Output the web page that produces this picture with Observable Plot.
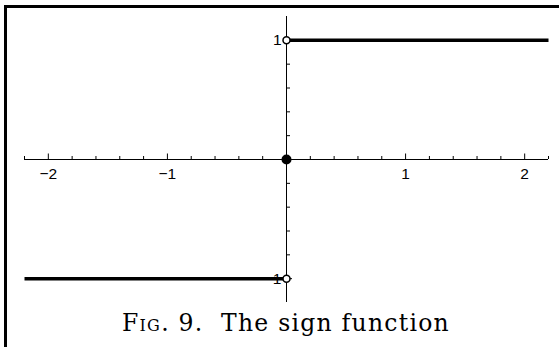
<!DOCTYPE html>
<html><head><meta charset="utf-8">
<script src="https://cdn.jsdelivr.net/npm/d3@7"></script>
<script src="https://cdn.jsdelivr.net/npm/@observablehq/plot@0.6"></script>
<style>
html,body{margin:0;padding:0;background:#fff;}
#wrap{position:relative;width:559px;height:347px;overflow:hidden;}
#frame{position:absolute;left:4px;top:5px;width:600px;height:400px;border-top:3px solid #000;border-left:3px solid #000;pointer-events:none;}
#plot{position:absolute;left:0;top:0;}
#cap{position:absolute;left:0;top:312px;width:572px;text-align:center;font-family:"DejaVu Serif",serif;font-size:23.5px;line-height:23.5px;white-space:pre;color:#000;}
</style></head><body>
<div id="wrap"><div id="plot"></div><div id="cap"><span id="capText"><span style="font-variant:small-caps">Fig.</span> 9.  The sign function</span></div><div id="frame"></div></div>
<script>
// sign function pieces
const negX = [-2.2, 0];
const negY = [-1, -1];
const posX = [0, 2.2];
const posY = [1, 1];
const openX = [0, 0];
const openY = [1, -1];
const closedX = [0];
const closedY = [0];
// ticks and labels
const xMajorTicks = [-2, -1, 1, 2];
const xTickLabels = ["−2", "−1", "1", "2"];
const xMinorTicks = [-2.2, -1.8, -1.6, -1.4, -1.2, -0.8, -0.6, -0.4, -0.2, 0.2, 0.4, 0.6, 0.8, 1.2, 1.4, 1.6, 1.8, 2.2];
const yMinorTicks = [-0.8, -0.6, -0.4, -0.2, 0.2, 0.4, 0.6, 0.8];
const yMajorTicks = [-1, 1];
const yTickLabels = ["−1", "1"];

const pts = (xs, ys) => xs.map((x, i) => ({x, y: ys[i]}));

const chart = Plot.plot({
  width: 559,
  height: 305,
  marginTop: 16,
  marginBottom: 3,
  marginLeft: 24,
  marginRight: 11,
  style: {background: "none", overflow: "visible"},
  x: {domain: [-2.2, 2.2], axis: null},
  y: {domain: [-1.2, 1.2], axis: null},
  marks: [
    Plot.ruleY([0], {stroke: "black", strokeWidth: 1}),
    Plot.ruleX([0], {stroke: "black", strokeWidth: 1}),
    Plot.ruleX(xMinorTicks, {x: d => d, y1: 0, y2: 0, insetTop: -3, insetBottom: 0, stroke: "black", strokeWidth: 1}),
    Plot.ruleX(xMajorTicks, {x: d => d, y1: 0, y2: 0, insetTop: -5.5, insetBottom: 0, stroke: "black", strokeWidth: 1}),
    Plot.ruleY(yMinorTicks, {y: d => d, x1: 0, x2: 0, insetLeft: 0, insetRight: -4, stroke: "black", strokeWidth: 1}),
    Plot.ruleY(yMajorTicks, {y: d => d, x1: 0, x2: 0, insetLeft: 0, insetRight: -6, stroke: "black", strokeWidth: 1}),
    Plot.line(pts(negX, negY), {x: "x", y: "y", stroke: "black", strokeWidth: 3.5, strokeLinecap: "butt"}),
    Plot.line(pts(posX, posY), {x: "x", y: "y", stroke: "black", strokeWidth: 3.5, strokeLinecap: "butt"}),
    Plot.text(xMajorTicks, {x: d => d, y: 0, text: (d, i) => xTickLabels[i], lineAnchor: "top", dy: 8, fontSize: 15.5, fontFamily: "Liberation Sans, Arial, sans-serif", fill: "black"}),
    Plot.text(yMajorTicks, {x: 0, y: d => d, text: (d, i) => yTickLabels[i], textAnchor: "end", dx: -5, fontSize: 15.5, fontFamily: "Liberation Sans, Arial, sans-serif", fill: "black"}),
    Plot.dot(pts(openX, openY), {x: "x", y: "y", r: 3.5, fill: "white", stroke: "black", strokeWidth: 1.5}),
    Plot.dot(pts(closedX, closedY), {x: "x", y: "y", r: 5, fill: "black", stroke: "none"})
  ]
});
document.getElementById("plot").appendChild(chart);

// fit caption to the reference width
const cap = document.getElementById("capText");
const txt = cap.textContent;
const w = cap.getBoundingClientRect().width;
const target = 328;
cap.style.letterSpacing = ((target - w) / txt.length).toFixed(2) + "px";
</script>
</body></html>
